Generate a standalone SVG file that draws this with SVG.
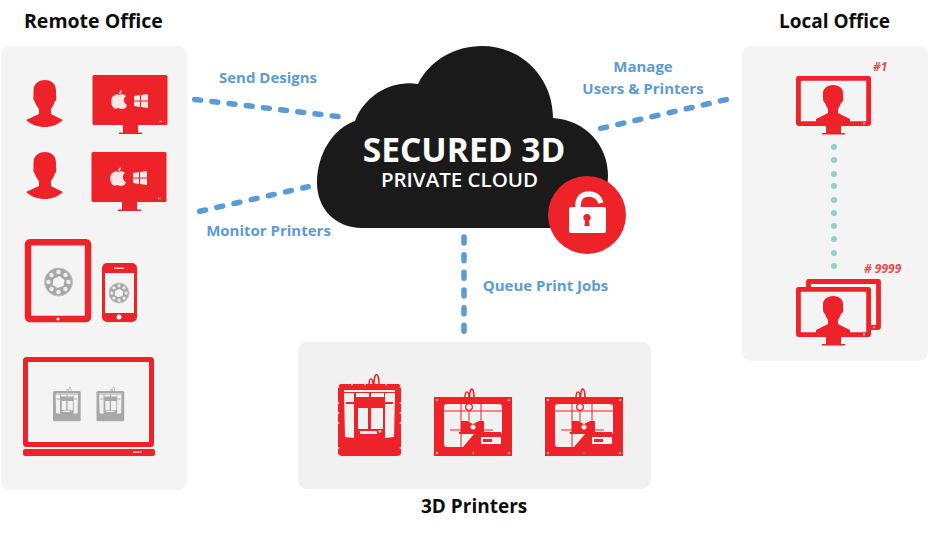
<svg xmlns="http://www.w3.org/2000/svg" width="929" height="533" viewBox="0 0 929 533">
<style>
.panel{fill:#f4f4f4}
.red{fill:#ee2229}
.frame{fill:none;stroke:#ee2229;stroke-linejoin:round}
.link{fill:none;stroke:#5b9bd5;stroke-width:5.500;stroke-linecap:round}
.head{font:bold 19px "Open Sans","Liberation Sans",sans-serif;fill:#0d0d0d}
.lbl{font:bold 15px "Open Sans","Liberation Sans",sans-serif;fill:#5b9bd5;text-anchor:middle}
.num{font:italic bold 12px "Open Sans","Liberation Sans",sans-serif;fill:#ee4a4f}
.w{fill:#f1f1f1}
</style>
<defs>
<path id="person" class="red" d="M45 80C52 80 56 84 56 91L56 96C57 98 56 101 54.500 102C54 105 52 107 51 109L51 114L63 120C57 125 51 127 45 127C38 127 32 125 26 120L39 114L39 109C37 107 35.500 104 35 102C33.500 101 33 98 33.500 96L33.500 91C33.500 84 38 80 45 80Z"/>
<g id="os">
<rect x="92.500" y="75" width="75" height="50" rx="1.500" class="red"/>
<rect x="123" y="125" width="15" height="8" class="red"/>
<rect x="119" y="132.500" width="23" height="1.500" class="red"/>
<path fill="#fbe6e6" d="M119 95C121 94 124 94 126 96C123 98 123 103 127 105C126 108 124 109 122 109C120 109 119 108 118 108C116 109 114 109 113 107C110 103 111 96 115 95C116 94 118 94 119 95ZM119 94C119 92 120 91 122 90C122 92 121 94 119 94Z"/>
<path fill="#fbe6e6" d="M134 96L140 95L140 100.500L134 100.500ZM141 95L148 94L148 100.500L141 100.500ZM134 101.500L140 101.500L140 107L134 106ZM141 101.500L148 101.500L148 108L141 107Z"/>
<rect x="159" y="121" width="3" height="1" fill="#fbe6e6"/>
</g>
<g id="wheel">
<circle r="14" fill="#a6a6a6"/>
<circle r="14" fill="none" stroke="#c4c4c4" stroke-width="1"/>
<path fill="#f4f4f4" d="M-5-3L1-6L6-2L5 4L-1 6L-6 3Z"/>
<g fill="#ececec"><circle cx="0" cy="-10" r="2.300"/><circle cx="7" cy="-7" r="2.300"/><circle cx="10" cy="0" r="2.300"/><circle cx="7" cy="7" r="2.300"/><circle cx="0" cy="10" r="2.300"/><circle cx="-7" cy="7" r="2.300"/><circle cx="-10" cy="0" r="2.300"/><circle cx="-7" cy="-7" r="2.300"/></g>
</g>
<g id="printerA">
<path fill="none" stroke="currentColor" stroke-width="1.500" d="M369 385C369 377 373 377 373 385M374 385C374 371 379 371 379 385"/>
<path fill="currentColor" d="M340 384L399 384L401 387L401 454L398 456L341 456L338 454L338 387Z"/>
<path class="w" d="M344 390L395 390L395 392L344 392ZM344 393L354 393L354 438L345 437ZM385 393L395 393L394 437L385 438ZM356 393L369 393L369 397L356 397ZM371 393L384 393L384 397L371 397ZM358 408L368 408L368 429L358 429ZM371 408L383 408L383 429L371 429ZM360 431L377 431L377 434L360 434Z"/>
<path fill="currentColor" d="M346 402L393 402L393 404L346 404Z"/>
<circle cx="380" cy="431.500" r="1.300" class="w"/>
</g>
<g id="printerB">
<path fill="none" stroke="#ee2229" stroke-width="1.500" d="M31 10C31 2 35 2 35 10M35.500 10C35.500-2 40-2 40 10"/>
<rect y="9" width="78" height="59" class="red"/>
<rect x="10" y="16" width="58" height="43" rx="3" class="w"/>
<path class="red" d="M10 22.500L68 22.500L68 23.500L10 23.500ZM26.500 16L27.500 16L27.500 59L26.500 59ZM46.500 16L47.500 16L47.500 34L46.500 34ZM34.500 23L35.500 23L35.500 34L34.500 34ZM27 33L33 33L39 36L45 33L50 33L50 44L27 44ZM16 41.500L59 41.500L59 42.500L16 42.500ZM25 44L67 44L67 46L68 46L68 59L29 59L40 46L25 46Z"/>
<rect x="47" y="49" width="20" height="7" class="w"/>
<rect x="49" y="51" width="9" height="3" class="red"/>
<circle cx="35" cy="19" r="4" class="red"/>
<circle cx="35" cy="19" r="2.700" class="w"/>
<circle cx="39" cy="39" r="2.500" class="w"/>
<g fill="#f6b0b2"><circle cx="3" cy="12" r="1.200"/><circle cx="75" cy="12" r="1.200"/><circle cx="3" cy="65" r="1.200"/><circle cx="75" cy="65" r="1.200"/><circle cx="39" cy="65" r="1"/></g>
</g>
<g id="screen">
<rect x="798.400" y="78.400" width="70.200" height="45.200" class="panel"/>
<rect x="798.400" y="78.400" width="70.200" height="45.200" class="frame" stroke-width="4.800"/>
<rect x="826" y="125" width="15" height="8" class="red"/>
<rect x="822" y="133" width="23" height="1.500" class="red"/>
<path class="red" d="M833 85C840 85 843 89 843 93L843 97C844 99 843 102 841 103C840 106 839 107 838 109L838 113L850 119L850 122L816 122L816 119L828 113L828 109C827 107 826 106 825 103C823 102 823 99 823 97L823 93C823 89 827 85 833 85Z"/>
<circle cx="864" cy="123.500" r="0.900" fill="#fff"/>
</g>
</defs>

<g id="remote-office">
<rect class="panel" x="1" y="46" width="186" height="444" rx="9"/>
<text class="head" x="24" y="28" style="font-size:19.500px">Remote Office</text>
<use href="#person"/>
<use href="#person" y="72"/>
<use href="#os"/>
<use href="#os" x="-1" y="77"/>
<rect x="28" y="242.300" width="60" height="76.700" rx="2" class="frame" stroke-width="6.500"/>
<circle cx="58" cy="319" r="1.500" fill="#fff"/>
<use href="#wheel" x="58.500" y="282"/>
<rect x="102" y="263" width="35" height="59" rx="5" class="red"/>
<rect x="105" y="273" width="29" height="40" fill="#f4f4f4"/>
<circle cx="119" cy="317" r="2.500" fill="#fff"/>
<rect x="114" y="267.500" width="10" height="1.500" fill="#f9c6c8"/>
<g transform="translate(119 293) scale(.72)"><use href="#wheel"/></g>
<rect x="25.500" y="359.500" width="126" height="85" rx="1" class="frame" stroke-width="5"/>
<rect x="23" y="449" width="132" height="7" rx="2" class="red"/>
<rect x="133" y="451.500" width="9" height="1.200" fill="#f9c6c8"/>
<g color="#a8a8a8" transform="translate(53 391) scale(.44 .42) translate(-338 -384)"><use href="#printerA"/></g>
<g color="#a8a8a8" transform="translate(96.500 391) scale(.44 .42) translate(-338 -384)"><use href="#printerA"/></g>
</g>

<g id="local-office">
<rect class="panel" x="742" y="46" width="186" height="315" rx="9"/>
<text class="head" x="779" y="28">Local Office</text>
<use href="#screen"/>
<text class="num" x="873" y="71">#1</text>
<g fill="#96cdd0"><circle cx="834" cy="147" r="3"/><circle cx="834" cy="160" r="3"/><circle cx="834" cy="174" r="3"/><circle cx="834" cy="186" r="3"/><circle cx="834" cy="200" r="3"/><circle cx="834" cy="213" r="3"/><circle cx="834" cy="226" r="3"/><circle cx="834" cy="239" r="3"/><circle cx="834" cy="253" r="3"/><circle cx="834" cy="266" r="3"/></g>
<text class="num" x="864" y="273">#&#160;9999</text>
<rect x="808.500" y="281.500" width="70" height="46" class="frame" stroke-width="4.800"/>
<circle cx="874" cy="327.500" r="0.900" fill="#fff"/>
<use href="#screen" y="211"/>
</g>

<g id="printers">
<rect class="panel" x="298" y="342" width="353" height="147" rx="9" style="fill:#f1f1f1"/>
<g id="printer-a" color="#ee2229"><use href="#printerA"/>
<g fill="#f6b0b2"><circle cx="338.500" cy="387" r="1"/><circle cx="338.500" cy="403" r="1"/><circle cx="338.500" cy="413" r="1"/><circle cx="338.500" cy="423" r="1"/><circle cx="338.500" cy="448" r="1"/><circle cx="400.500" cy="387" r="1"/><circle cx="400.500" cy="403" r="1"/><circle cx="400.500" cy="413" r="1"/><circle cx="400.500" cy="423" r="1"/><circle cx="400.500" cy="448" r="1"/><circle cx="352" cy="384.500" r="1"/><circle cx="365" cy="384.500" r="1"/><circle cx="386" cy="384.500" r="1"/></g>
</g>
<use id="printer-b" href="#printerB" x="434" y="388"/>
<use id="printer-c" href="#printerB" x="545" y="388"/>
<text class="head" x="421" y="513">3D Printers</text>
</g>

<g id="connectors">
<path class="link" stroke-dasharray="6 11.300" d="M194.700 99.400L338 116.600"/>
<path class="link" stroke-dasharray="6 11.600" d="M199.700 211.300L308.300 186.700"/>
<path class="link" stroke-dasharray="6 11.550" d="M726.300 99.600L600.700 128.400"/>
<path class="link" stroke-dasharray="6 11.660" d="M464 237L464 331.300"/>
</g>

<g id="labels">
<text class="lbl" x="268" y="83">Send Designs</text>
<text class="lbl" x="268.500" y="236">Monitor Printers</text>
<text class="lbl" x="643" y="72">Manage</text>
<text class="lbl" x="643" y="94">Users &amp; Printers</text>
<text class="lbl" x="545.500" y="291">Queue Print Jobs</text>
</g>

<g id="cloud">
<path fill="#1a1a1a" d="M362 228C335 228 317 208 317 183C317 153 334 128 355 121C365 95 392 80 418 84C430 60 455 46 482 46C522 46 553 78 553 118C585 120 608 145 608 175C608 205 590 228 560 228Z"/>
<text x="464" y="162" text-anchor="middle" font-family="'Open Sans','Liberation Sans',sans-serif" font-weight="700" font-size="33.600" fill="#fff">SECURED 3D</text>
<text x="459.500" y="187" text-anchor="middle" font-family="'Open Sans','Liberation Sans',sans-serif" font-weight="600" font-size="20.500" fill="#fff">PRIVATE CLOUD</text>
<circle cx="587" cy="215" r="39" fill="#ee2229"/>
<path fill="none" stroke="#fff" stroke-width="5.500" d="M578 208L578 205C578 198 582 194 589 194C595 194 599 197 601 203"/>
<rect x="569" y="207" width="37" height="26" rx="2" fill="#fff"/>
<path fill="#ee2229" d="M587 214A3.500 3.500 0 0 1 589 220.500L589.500 226L584.500 226L585 220.500A3.500 3.500 0 0 1 587 214Z"/>
</g>
</svg>
